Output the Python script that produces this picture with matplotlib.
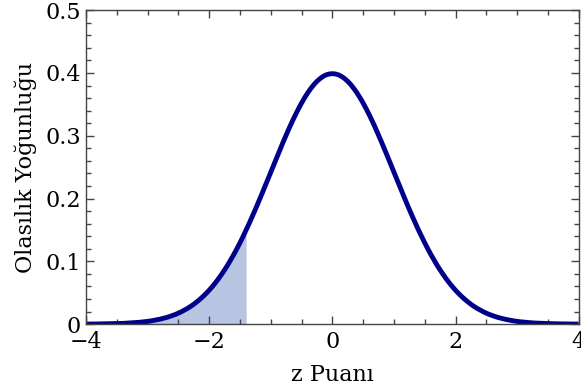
import matplotlib
matplotlib.use("Agg")
import matplotlib.pyplot as plt
import numpy as np
from matplotlib.ticker import MultipleLocator, FuncFormatter

# density of the curve at z = 0, 0.05, ..., 4 (the left half mirrors it)
right_half = [0.3989, 0.3984, 0.3970, 0.3945, 0.3910, 0.3867, 0.3814, 0.3752, 0.3683, 0.3605,
              0.3521, 0.3429, 0.3332, 0.3230, 0.3123, 0.3011, 0.2897, 0.2780, 0.2661, 0.2541,
              0.2420, 0.2299, 0.2179, 0.2059, 0.1942, 0.1826, 0.1714, 0.1604, 0.1497, 0.1394,
              0.1295, 0.1200, 0.1109, 0.1023, 0.0940, 0.0863, 0.0790, 0.0721, 0.0656, 0.0596,
              0.0540, 0.0488, 0.0440, 0.0396, 0.0355, 0.0317, 0.0283, 0.0252, 0.0224, 0.0198,
              0.0175, 0.0154, 0.0136, 0.0119, 0.0104, 0.0091, 0.0079, 0.0069, 0.0060, 0.0051,
              0.0044, 0.0038, 0.0033, 0.0028, 0.0024, 0.0020, 0.0017, 0.0015, 0.0012, 0.0010,
              0.0009, 0.0007, 0.0006, 0.0005, 0.0004, 0.0004, 0.0003, 0.0002, 0.0002, 0.0002,
              0.0001]
z_values = np.round(np.arange(-4.0, 4.001, 0.05), 2)
density = right_half[:0:-1] + right_half
shade_limit = -1.4

x_ticks = [-4, -2, 0, 2, 4]
y_ticks = [0, 0.1, 0.2, 0.3, 0.4, 0.5]

plt.rcParams['font.family'] = ['DejaVu Serif']

fig = plt.figure(figsize=(5.81, 3.91), dpi=100)
ax = fig.add_axes([0.148, 0.171, 0.848, 0.803])

z = np.array(z_values)
d = np.array(density)
mask = z <= shade_limit + 1e-9
ax.fill_between(z[mask], 0, d[mask], color='#b7c5e2', linewidth=0)
ax.plot(z, d, color='#00008b', linewidth=3.5, solid_capstyle='butt')

ax.set_xlim(-4, 4)
ax.set_ylim(0, 0.5)
ax.set_xticks(x_ticks)
ax.set_yticks(y_ticks)
ax.xaxis.set_minor_locator(MultipleLocator(0.5))
ax.yaxis.set_minor_locator(MultipleLocator(0.02))
ax.xaxis.set_major_formatter(FuncFormatter(lambda v, p: f"{v:g}".replace('-', '\u2212')))
ax.yaxis.set_major_formatter(FuncFormatter(lambda v, p: "0" if v == 0 else f"{v:.1f}"))

ax.tick_params(which='both', direction='in', top=True, right=True,
               colors='#444444', labelcolor='black', labelsize=16)
ax.tick_params(which='major', length=6, width=1)
ax.tick_params(which='minor', length=3.5, width=1)
ax.tick_params(axis='x', which='major', pad=5)
for spine in ax.spines.values():
    spine.set_color('#444444')
    spine.set_linewidth(1)

ax.set_xlabel('z Puanı', fontsize=16, labelpad=8)
ax.set_ylabel('Olasılık Yoğunluğu', fontsize=16, labelpad=6)

fig.savefig('out.png', dpi=100)
